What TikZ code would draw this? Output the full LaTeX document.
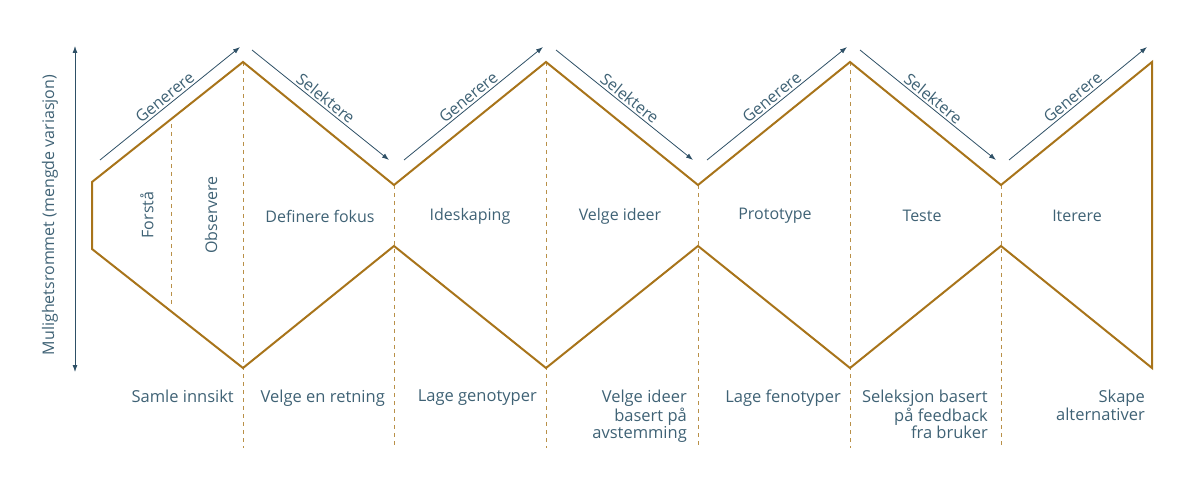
\documentclass[tikz,border=0pt]{standalone}
\usepackage{fontspec}
\setmainfont{Open Sans}
\usetikzlibrary{arrows.meta}
\definecolor{gold}{HTML}{A8741A}
\definecolor{txt}{HTML}{3F6275}
\definecolor{arr}{HTML}{2E5066}
\begin{document}
\begin{tikzpicture}[x=1pt,y=-1pt,
  outline/.style={draw=gold,line width=2pt,line join=miter},
  dsh/.style={draw=gold!80,dashed,line width=0.7pt,dash pattern=on 4pt off 4pt},
  ar/.style={draw=arr,line width=0.8pt,-{Latex[length=7pt,width=5pt]}},
  lbl/.style={text=txt,font=\fontsize{16}{18}\selectfont},
  albl/.style={text=txt,font=\fontsize{16}{18}\selectfont,sloped,above,midway,inner sep=2pt},
  bl/.style={text=txt,font=\fontsize{16.5}{15.5}\selectfont,align=right,anchor=north east,inner sep=0pt}]
\useasboundingbox (0,0) rectangle (1200,481);
% dashed lines
\coordinate (f1) at (171,124); \coordinate (f2) at (171,307);
\draw[dsh] (f1) -- (f2);
\foreach \x/\y in {243/62,394/185,546/62,698/185,850/62,1001/185}{
  \draw[dsh] (\x,\y) -- (\x,448);}
% outline
\draw[outline] (92,182) -- (243,62) -- (394,185) -- (546,62) -- (698,185) -- (850,62) -- (1001,185) -- (1152,62) -- (1152,368) -- (1001,246) -- (850,368) -- (698,246) -- (546,368) -- (394,246) -- (243,368) -- (92,249) -- cycle;
% arrows
\coordinate (g1a) at (100,160); \coordinate (g1b) at (240,47);
\coordinate (s1a) at (252,50); \coordinate (s1b) at (389,160);
\draw[ar] (g1a) -- (g1b) node[albl]{Generere};
\draw[ar] (s1a) -- (s1b) node[albl]{Selektere};
\draw[ar] (404,160) -- (543,47) node[albl]{Generere};
\draw[ar] (556,50) -- (693,160) node[albl]{Selektere};
\draw[ar] (707,160) -- (847,47) node[albl]{Generere};
\draw[ar] (860,50) -- (996,160) node[albl]{Selektere};
\draw[ar] (1009,160) -- (1147,47) node[albl]{Generere};
% axis
\coordinate (ya) at (75,372); \coordinate (yb) at (75,46);
\draw[draw=arr,line width=0.8pt,{Latex[length=7pt,width=5pt]}-{Latex[length=7pt,width=5pt]}] (ya) -- (yb);
\node[lbl,rotate=90] (ax) at (50,215) {Mulighetsrommet (mengde variasjon)};
% middle labels
\node[lbl,rotate=90] (n1) at (147,215) {Forstå};
\node[lbl,rotate=90] (n2) at (211,215) {Observere};
\node[lbl] (n3) at (320,216) {Definere fokus};
\node[lbl] (n4) at (470,216) {Ideskaping};
\node[lbl] (n5) at (620,216) {Velge ideer};
\node[lbl] (n6) at (775,216) {Prototype};
\node[lbl] (n7) at (922,216) {Teste};
\node[lbl] (n8) at (1077,216) {Iterere};
% bottom labels
\node[bl] (b1) at (234,390) {Samle innsikt};
\node[bl] (b2) at (385,390) {Velge en retning};
\node[bl] (b3) at (537,390) {Lage genotyper};
\node[bl] (b4) at (687,390) {Velge ideer\\basert på\\avstemming};
\node[bl] (b5) at (841,390) {Lage fenotyper};
\node[bl] (b6) at (988,390) {Seleksjon basert\\på feedback\\fra bruker};
\node[bl] (b7) at (1145,390) {Skape\\alternativer};
\end{tikzpicture}
\end{document}
